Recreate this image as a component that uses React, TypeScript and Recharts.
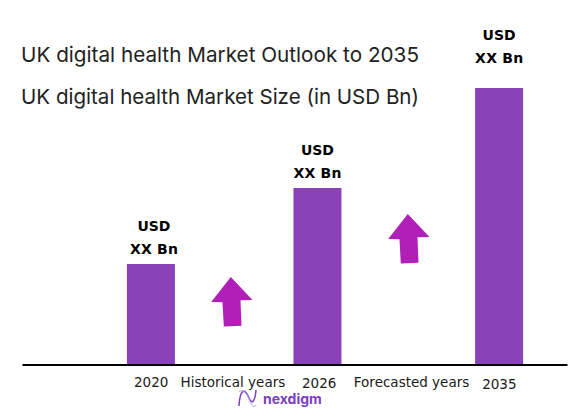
import { BarChart, Bar, XAxis, YAxis, LabelList, ReferenceDot } from 'recharts';

const titleLines = ['UK digital health Market Outlook to 2035', 'UK digital health Market Size (in USD Bn)'];

// ordinal slots along the axis, the years are not evenly spaced in the picture
const barSlots = [1, 12, 24];
const barValues = [10.1, 17.7, 27.7];
const tickSlots = [1, 6.4, 12.1, 18.2, 24];
const tickLabels = ['2020', 'Historical years', '2026', 'Forecasted years', '2035'];
const arrowSlots = [6.26, 17.95];
const arrowTops = [8.8, 15.1];

const data = barSlots.map((slot, i) => ({ slot, value: barValues[i] }));

const FONT = 'Inter, sans-serif';
const WIDE_FONT = '"DejaVu Sans", sans-serif';

function AxisTick({ x, y, payload, index }: any) {
  const i = index ?? tickSlots.indexOf(payload.value);
  const nudge = i === 2 ? 1 : i === 4 ? 2 : 0;
  return (
    <text x={x} y={y + 14 + nudge} textAnchor="middle" fontFamily={WIDE_FONT} fontSize={13.5} fill="#1a1a1a">
      {tickLabels[i]}
    </text>
  );
}

function ValueLabel({ x, y, width, index }: any) {
  // the first label sits a bit right of its bar, the tallest one is lifted
  const cx = x + width / 2 + (index === 0 ? 3 : 0);
  const lift = index === 2 ? 15 : 0;
  return (
    <g fontFamily={WIDE_FONT} fontSize={14} fontWeight={700} fill="#000" textAnchor="middle">
      <text x={cx} y={y - 33 - lift}>USD</text>
      <text x={cx} y={y - 10 - lift} textLength={48} lengthAdjust="spacing">XX Bn</text>
    </g>
  );
}

function Arrow({ cx, cy }: any) {
  const pts = [[0, 0], [21.7, 23], [9.7, 23.2], [10.7, 48.7], [-7, 49.4], [-8.3, 25.2], [-19.6, 25]];
  return <polygon points={pts.map((p) => `${cx + p[0]},${cy + p[1]}`).join(' ')} fill="#B01FB8" />;
}

export default function App() {
  return (
    <div style={{ position: 'absolute', left: 0, top: 0, width: 570, height: 419, background: '#fff' }}>
      <BarChart width={570} height={419} data={data} margin={{ top: 65, right: 2.5, bottom: 24, left: 22.5 }}>
        <XAxis
          dataKey="slot"
          type="number"
          domain={[-7.5, 28.5]}
          ticks={tickSlots}
          interval={0}
          height={30}
          tickLine={false}
          axisLine={{ stroke: '#000', strokeWidth: 2 }}
          tick={<AxisTick />}
        />
        <YAxis hide domain={[0, 30]} />
        <Bar dataKey="value" fill="#8A42B8" barSize={48} isAnimationActive={false}>
          <LabelList dataKey="value" content={<ValueLabel />} />
        </Bar>
        {arrowSlots.map((s, i) => (
          <ReferenceDot key={s} x={s} y={arrowTops[i]} shape={<Arrow />} />
        ))}
        <g fontFamily={FONT} fontSize={20.5} fill="#222">
          <text x={21} y={62} textLength={398} lengthAdjust="spacingAndGlyphs">{titleLines[0]}</text>
          <text x={21} y={104} textLength={398} lengthAdjust="spacingAndGlyphs">{titleLines[1]}</text>
        </g>
        <path d="M239 406 C240 388 245 388 249 398 C252 405 255 402 256 390" fill="none" stroke="#7B3FC4" strokeWidth={1.5} />
        <path d="M239 392 C243 389 246 392 249 399 C252 407 254 408 256 405" fill="none" stroke="#B9A0E0" strokeWidth={1} />
        <text x={263} y={404} fontFamily={FONT} fontSize={14} fontWeight={700} fill="#7B3FC4">nexdigm</text>
      </BarChart>
    </div>
  );
}
